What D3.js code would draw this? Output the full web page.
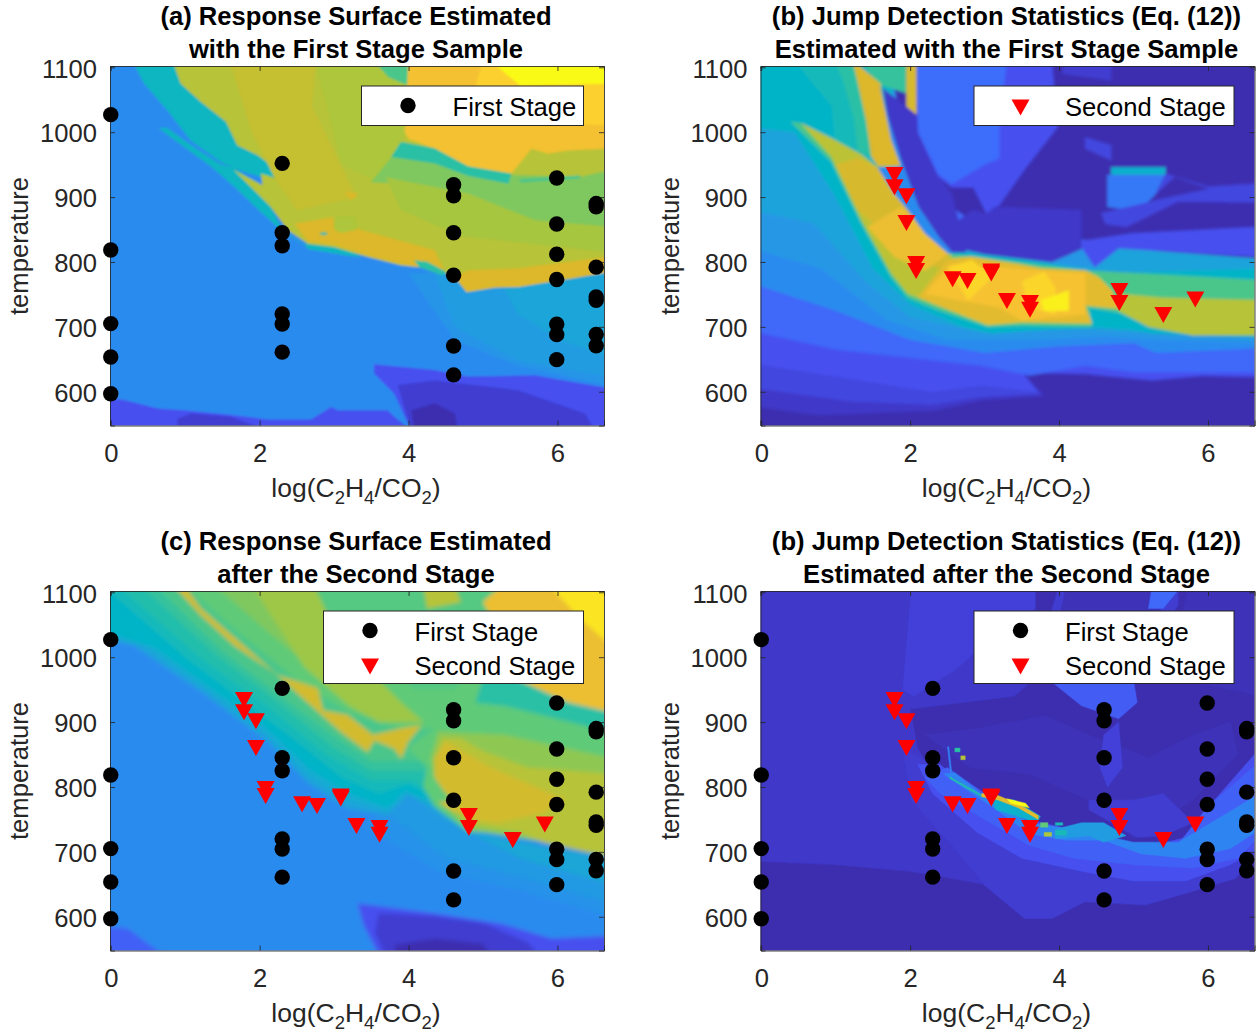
<!DOCTYPE html>
<html><head><meta charset="utf-8">
<script src="https://cdn.jsdelivr.net/npm/d3@7"></script>
<style>html,body{margin:0;background:#fff}svg{display:block}text{font-family:"Liberation Sans",Arial,sans-serif}</style>
</head><body><div id="c"></div>
<script>
const xTicks=[0,2,4,6], yTicks=[600,700,800,900,1000,1100];
const firstStageX=[0,0,0,0,0,2.303,2.303,2.303,2.303,2.303,2.303,4.605,4.605,4.605,4.605,4.605,4.605,5.99,5.99,5.99,5.99,5.99,5.99,5.99,6.52,6.52,6.52,6.52,6.52,6.52,6.52];
const firstStageY=[1027,818.5,705,653.5,597,952,845,825,720,704.5,661,919,902,845,779.5,670.5,626,929.5,858.6,812,773,704,688,649.5,890,885,792,746,741,688.5,671];
const secondStageX=[1.79,1.79,1.95,1.95,2.08,2.08,2.57,2.77,3.09,3.09,3.30,3.61,3.61,4.81,4.81,5.40,5.83];
const secondStageY=[934.7,916,902,861,797.5,787,774.3,771.3,786,783,740.5,737.5,727,756,737.5,719,743];
const colourStops=[0,.05,.1,.15,.2,.3,.4,.5,.6,.7,.8,.9,1];
const parulaColours=["#3a2aa0","#3f37c8","#4650ef","#3d6dfb","#2b8bef","#1fa3db","#05b4c8","#2cc0a5","#5fca78","#aec63a","#dcb82c","#fdc535","#f9fb15"];
// Surface regions: level, then x,y vertices in data units, painted in order
const surfaceA=[
[.2,-1,500,8,500,8,1200,-1,1200],
[.24,4,782,6.7,792,6.7,610,5.47,640,4.62,680],
[.27,4.35,782,6.7,792,6.7,623,5.47,648,4.62,700],
[.31,5.25,767,6.7,782,6.7,654,6.05,679,5.47,720],
[.1,3.54,642,4.35,633,4.8,623,5.7,625,6.7,605,6.7,540,4.04,540,3.81,597,3.54,628],
[.06,3.86,610,4.35,617,5.47,602,6.37,566,6.5,540,4.04,540],
[.02,4.04,571,4.35,582,4.62,566,4.66,540,4.08,540],
[.1,-1,603,.18,587,.63,574,.99,571,1.61,564,2.11,557,2.69,557,2.96,576,3.05,571,3.72,571,3.81,561,4.04,540,-1,540],
[.06,.9,558,1.08,566,1.61,561,2.11,540,.9,540],
[.42,.29,1110,.83,1110,.94,1075,1.21,1047,1.55,1016,1.7,980,1.97,965,2.31,936,2.38,923,2.02,931,1.66,944,1.48,954,1.08,987,.76,1034,.45,1075],
[.42,.65,1006,.76,1006,1.1,978,1.48,950,1.66,944,2,920,2.3,850,2.6,826,2.29,849,1.97,882,1.66,916,1.35,947,.99,977],
[.42,2.6,828,3.14,821,3.36,808,3.18,810,2.65,820],
[.72,.83,1110,.94,1075,1.21,1047,1.55,1016,1.7,980,1.97,965,2.31,936,2.38,923,2.02,936,2.04,918,1.66,941,1.88,916,2.15,885,2.38,849,2.65,828,3,823,3.45,808,3.9,795,4.35,790,4.62,777,4.78,754,5.16,761,5.47,762,6.14,774,6.7,785,6.7,1110],
[.75,1.6,1110,2.75,1110,2.7,1040,3.3,900,2.5,880,2.2,930,1.9,1000],
[.7,2.74,1110,4,1110,4,1008,3.85,975,3.55,925,3.1,950,2.9,1040],
[.56,3.54,1110,4,1110,4,1072,3.73,1085],
[.87,4,1110,6.7,1110,6.7,975,6.14,972,5.87,967,5.65,975,5.38,936,4.8,947,4.35,975,4,990,3.95,1000],
[.92,5,1110,6.7,1110,6.7,1010,5.3,1020,4.9,1070],
[1,5.1,1110,6.7,1110,6.7,1075,5.5,1072],
[.64,3.5,923,3.81,967,4.35,957,5.38,934,6.31,931,6.7,941,6.7,854,5.7,864,4.8,905,3.9,921],
[.5,3.77,962,3.9,985,4.35,975,4.8,947,5.38,936,5.34,921,4.8,933,4.35,952],
[.55,5.5,927,6.3,933,6.3,929,5.5,923],
[.69,3.7,930,4.8,905,5.7,864,6.7,854,6.7,815,5.5,830,4.7,840,3.9,880],
[.8,2.47,859,3,869,3.36,849,4.35,818,4.48,787,3.9,797,3.45,810,3,826,2.65,831],
[.8,4.62,777,4.8,787,5.47,790,6.7,808,6.7,785,6.14,774,5.47,762,5.16,761,4.78,754],
[.8,3.14,908,3.32,905,3.23,895],
[.7,3,870,3.3,870,3.3,850,3.1,845,3,850],
[.45,2.82,845,2.9,845,2.9,842,2.82,842],
[.5,4.08,802,4.25,800,4.5,785,4.45,780,4.15,792]
];
const surfaceB=[
[.02,-1,500,8,500,8,1200,-1,1200],
[.05,-1,592,.76,564,2.33,571,2.96,587,3.79,594,3.5,630,4.35,628,5.25,618,5.92,625,6.7,623,6.7,790,4.6,830,3,850,2.6,880,2,950,1.7,1110,-1,1110],
[.08,-1,620,1.2,585,2.3,580,2.96,592,3.75,597,3.5,630,4.35,628,5.25,618,5.92,625,6.7,623,6.7,790,4.6,830,3,850,2.6,880,2,950,1.7,1110,-1,1110],
[.1,-1,660,1.2,620,2.3,600,2.96,610,3.7,600,3.5,630,4.35,628,5.25,618,5.92,625,6.7,623,6.7,790,4.6,830,3,850,2.6,880,2,950,1.7,1110,-1,1110],
[.14,-1,715,1,665,2.96,640,3.6,625,4.35,640,5,630,6.7,630,6.7,790,4.6,830,3,850,2.6,880,2,950,1.7,1110,-1,1110],
[.2,-1,800,1,725,2,680,3,660,4,670,5,675,5.3,660,6.7,667,6.7,790,4.6,830,3,840,2.6,860,2,950,1.7,1110,-1,1110],
[.25,-1,850,.8,790,1.7,710,2.5,680,3.7,680,4.6,685,5.3,680,6.7,676,6.7,790,4.6,830,3,840,2.6,860,2,950,1.7,1110,-1,1110],
[.3,-1,900,.7,860,1.4,770,2,715,3,690,3.7,695,4.6,695,5.3,690,6.7,684,6.7,805,4.8,821,4.48,792,3.9,797,2.74,820,2.56,815,2.2,860,1.9,950,1.7,1110,-1,1110],
[.4,-1,1020,.45,1000,1,900,1.5,790,2,735,2.7,700,3.1,690,4.4,700,5,695,5.25,690,6.7,684,6.7,790,4.6,782,3.9,797,3,812,2.65,815,2.4,800,1.9,950,1.7,1110,-1,1110],
[.4,-1,1110,1.23,1110,1.3,1075,1.41,1018,1.48,962,1.35,965,.95,990,.54,1013,.4,1016,-1,1020],
[.44,.45,1110,1.23,1110,1.35,968,1,985,.95,1040],
[.5,.99,1110,1.23,1110,1.3,1075,1.41,1018,1.48,962,1.3,970,1.25,1020,1.1,1080],
[.52,1.35,1110,1.95,1110,1.95,1060,1.55,1075],
[.79,1.95,1110,2.09,1110,2.09,1026,1.95,1039],
[.56,.4,1016,.54,1013,.95,990,1.35,965,1.57,945,1.9,880,2.51,813,4.35,787,6.7,772,6.7,690,5.8,687,5.2,702,4.8,722,4.4,730,4.44,700,3.5,702,3.04,700,2.37,726,1.97,745,1.75,776,1.35,858,.94,955],
[.73,.54,1013,.95,990,1.35,965,1.57,945,1.79,905,1.97,880,2.2,844,2.51,813,2.56,810,2.45,775,2.37,733,1.97,751,1.75,782,1.35,864,.94,962],
[.72,4.8,751,5.38,745,6.7,741,6.7,687,5.8,687,5.2,700,4.8,725],
[.79,1,950,1.3,960,1.57,945,1.79,905,1.97,880,2.2,844,2.51,813,2.45,790,2.1,800,1.6,850,1.3,880],
[.85,1.43,854,1.88,885,2.2,844,2.51,813,2.2,787,1.79,808],
[.8,1.23,1110,1.6,1075,1.66,1039,1.75,988,1.88,947,1.57,947,1.48,962,1.41,1018,1.3,1075],
[.82,2.11,746,2.51,805,2.82,808,3.45,797,3.76,790,4.35,787,4.53,777,4.71,756,4.8,728,4.35,733,4.44,705,3.5,707,3.04,703,2.37,733],
[.88,2.2,751,2.55,797,4.35,782,4.35,720,3.5,710,3.2,730],
[.93,2.51,792,2.83,803,3.1,777,2.78,741],
[.93,3.5,770,3.8,785,3.95,760,3.95,720,3.6,730],
[.98,3.76,741,4.13,756,4.13,725,3.8,725],
[.05,1.64,1067,1.95,1039,2.09,1026,2.11,998,2.38,931,2.56,905,2.75,815,2.56,815,2.38,839,2.11,885,1.88,952,1.7,1024],
[.2,1.6,1070,1.7,1024,1.88,957,2.11,885,2.38,839,2.56,815,2.51,813,2.2,844,1.97,880,1.79,905,1.57,945,1.88,947,1.75,988,1.66,1039],
[.1,2.09,1110,3.9,1110,3.98,1008,3.55,945,3.2,888,3.03,874,2.85,915,2.56,915,2.38,931,2.11,998,2.09,1026],
[.15,2.09,1110,3.3,1110,3.2,1020,3.2,960,3,950,2.56,920,2.38,935,2.11,1000],
[.05,3.03,874,3.14,885,4.3,880,4.3,820,3.9,800,3,812,2.7,820,2.6,860,2.85,880],
[.06,4.05,1110,4.7,1110,4.7,1080,4.05,1090],
[.08,4.35,992,4.7,980,4.7,957,4.35,975],
[.38,4.7,946,5.43,946,5.43,934,4.7,934],
[.17,4.65,934,5.43,934,5.25,895,4.95,880,4.65,885],
[.08,4.57,875,5.25,893,5.43,936,6,916,6.7,921,6.7,892,5.6,893,4.9,854,4.62,859],
[.02,5.2,893,5.55,931,6,913],
[.1,4.3,832,4.98,844,6.7,854,6.7,808,4.8,821,4.48,792,4.3,823]
];
const surfaceC=[
[.2,-1,500,8,500,8,1200,-1,1200],
[.23,3.4,740,4,787,4.35,761,4.8,731,5.2,720,6.7,680,6.7,600,5.5,640,4.4,670],
[.26,3.75,755,4,787,4.35,761,4.8,731,5.2,720,6.7,680,6.7,620,5.5,660,4.5,690],
[.32,4.3,761,4.8,731,5.2,722,6.7,690,6.7,650,5.5,690],
[.1,3.32,620,3.67,615,4.35,605,5.25,589,5.92,566,6.7,570,6.7,540,3.61,540,3.4,587],
[.06,3.6,605,4.35,600,5,590,5.6,560,5.75,540,3.7,540,3.55,575],
[.02,3.81,556,4.35,566,5,558,5.1,540,3.85,540],
[.13,-1,592,.22,582,.72,540,-1,540],
[.3,-1,1052,.31,1018,1.21,947,2.11,870,2.63,808,3.18,767,3.72,756,4.01,787,4.35,761,4.8,731,5.2,725,6.7,700,6.7,1110,-1,1110],
[.35,-1,1060,.45,1018,1.2,957,2.1,880,2.66,816,3.2,778,3.72,762,3.98,790,4.35,768,4.7,740,5.2,728,6.7,705,6.7,1110,-1,1110],
[.4,-1,1072,.6,1015,1.2,965,2.1,890,2.7,825,3.2,790,3.72,768,3.95,795,4.35,775,4.6,750,4.8,735,5.2,730,6.7,710,6.7,1110,-1,1110],
[.44,-.1,1110,1,1000,1.7,940,2.5,870,3.1,815,3.6,790,4,805,4.4,782,4.6,755,5,735,6.7,715,6.7,1110],
[.48,.1,1110,1.2,1000,2.1,925,2.9,850,3.5,810,4.05,810,4.4,790,4.6,760,5,740,6.7,720,6.7,1110],
[.52,.4,1110,1.4,1005,2.25,930,3,860,3.5,825,4.2,825,4.4,795,4.6,765,5,745,6.7,730,6.7,1110],
[.56,.6,1110,1.5,1010,2.4,930,3.1,870,3.5,840,4.25,840,4.35,800,4.6,770,5,750,6.7,740,6.7,1110],
[.6,1,1110,1.7,1040,2.5,965,3.2,915,3.9,890,6.7,890,6.7,1110],
[.64,1.4,1110,2.1,1040,2.9,965,3.6,900,4.1,900,3.4,960,2.8,1040,2.5,1110],
[.68,1.9,1110,2.74,1110,2.9,1070,3.3,1000,3.9,930,4.2,900,3.6,900,3.2,925,2.6,985],
[.58,2.74,1110,4.2,1110,5.25,1110,5.1,1000,4.6,950,4.1,950,3.4,1000,2.9,1070],
[.72,4.2,1110,4.62,1110,4.7,1085,4.25,1075],
[.85,5.25,1110,6.7,1110,6.7,915,6.14,930,5.47,965,5.4,1000,5,1085],
[.96,5.9,1110,6.7,1110,6.7,1020,6.3,1060],
[.5,5,965,5.47,965,6.14,930,6.7,915,6.7,885,6,905,5.3,925,4.9,930],
[.6,4,860,4.35,890,4.8,920,5.2,905,6.7,885,6.7,700,5.5,730,4.8,731,4.35,770,4.2,800,4.25,830],
[.66,4.4,885,5.3,880,6.7,845,6.7,700,5.7,718,4.8,735,4.5,770,4.55,800,4.35,815,4.3,845],
[.72,4.45,875,4.35,840,4.45,810,4.65,780,4.6,770,4.75,745,5.5,730,5.8,715,6.7,692,6.7,820,5.6,830,5,855,4.7,875],
[.78,4.35,845,4.5,870,4.65,860,5.1,830,5.6,805,6.1,780,5.8,760,5.2,745,4.85,750,4.7,765,4.62,785,4.5,790,4.35,815],
[.78,.85,1110,.99,1110,1.21,1075,1.75,1021,2.24,972,2.78,952,2.85,918,3.18,911,3.52,880,3.9,890,4.17,895,3.99,869,3.9,844,3.81,859,3.54,872,3.45,854,3.09,885,2.56,939,2.19,977,1.66,1018,1.21,1065],
[.78,4.4,777,4.55,778,4.75,760,4.6,762]
];
const surfaceD=[
[.02,-1,500,8,500,8,1200,-1,1200],
[.05,-1,1110,3.68,1110,3.68,1075,4,1000,3.4,940,2,920,2.1,860,2.4,800,3.5,700,3,650,2,670,1,680,-1,690],
[.07,2.02,1110,3.68,1110,3.68,1075,3.2,1040,2.6,980,2.05,940,1.9,950],
[.03,2.2,880,2.9,890,3.8,910,4.4,880,5.2,845,5.8,880,6.3,900,6.4,850,5.8,780,5,720,4.4,780,3.6,820,2.8,830],
[.06,4,1110,5.6,1110,5.6,1080,5.1,1000,4.2,1000,4,960,3.6,960],
[.03,4.1,1110,5.2,1110,5.5,1040,5.5,1000,4.5,1000,4,1060],
[.03,5.75,1110,6.7,1110,6.7,940,5.9,960,5.5,1000],
[.12,3.9,962,5,965,5.05,930,4.8,905,4.3,925],
[.14,5.25,1110,5.65,1110,5.4,1075,5.2,1075],
[.07,4.6,880,4.8,900,4.85,830,4.65,800,4.55,830],
[.06,4.4,780,5,780,5.4,790,5.8,745,5.4,725,5.05,722,4.4,765],
[.06,1.9,860,2.3,835,2.8,790,3.5,750,4.5,720,5,700,5.7,720,6.05,770,6.7,850,6.7,700,6.37,659,5.7,636,5.16,618,4.35,623,3.9,597,3.54,597,3,648,2.56,710,2,780],
[.1,2.1,835,2.4,835,2.8,795,3.5,752,4.5,725,5,703,5.7,722,6.05,775,6.7,860,6.7,705,6.3,680,5.7,655,5,655,4.3,670,3.5,690,2.9,730,2.3,790],
[.13,2.2,815,2.5,830,3,790,3.6,745,4.4,730,5,705,5.6,712,6,770,6.3,800,6.7,840,6.7,725,6.4,690,5.8,675,5,680,4.2,690,3.6,710,3,750,2.4,790],
[.19,2.45,820,2.6,822,3,785,3.6,745,4.2,735,5,715,5.6,715,5.9,735,6.7,790,6.7,735,6.3,705,5.7,690,5.1,697,4.6,718,4.1,718,3.6,728,3.1,770,2.7,800],
[.27,3.95,735,4.3,745,4.6,745,4.75,735,4.9,725,4.6,715,4.4,725,3.95,720],
[.38,3.1,782,3.4,780,3.75,755,3.7,745,3.3,760,3.15,765],
[.48,2.54,816,2.57,813,2.96,788,2.95,786,2.56,811,2.53,813],
[.18,2.5,862,2.52,862,2.56,822,2.54,822],
[.5,2.6,860,2.67,860,2.67,854,2.6,854],
[.72,2.68,848,2.74,848,2.74,842,2.68,842],
[.82,2.96,790,3.18,787,3.45,774,3.72,756,3.72,750,3.45,768,3.18,780,2.96,785],
[1,3.3,782,3.55,775,3.6,768,3.35,775],
[.6,3.75,745,3.85,745,3.85,738,3.75,738],
[.45,3.95,745,4.05,745,4.05,741,3.95,741],
[.7,3.8,730,3.9,730,3.9,724,3.8,724],
[.45,3.95,733,4.1,733,4.1,726,3.95,726]
];
const panels=[
 {dx:0,dy:0,surface:surfaceA,blur:1,title:["(a) Response Surface Estimated","with the First Stage Sample"],first:true,second:false,legendLeft:361.5},
 {dx:650.5,dy:0,surface:surfaceB,blur:1.6,title:["(b) Jump Detection Statistics (Eq. (12))","Estimated with the First Stage Sample"],first:false,second:true,legendLeft:323.5},
 {dx:0,dy:525,surface:surfaceC,blur:2,title:["(c) Response Surface Estimated","after the Second Stage"],first:true,second:true,legendLeft:323.5},
 {dx:650.5,dy:525,surface:surfaceD,blur:.7,title:["(b) Jump Detection Statistics (Eq. (12))","Estimated after the Second Stage"],first:true,second:true,legendLeft:323.5}
];
const W=1257,H=1036;
const colour=d3.scaleLinear().domain(colourStops).range(parulaColours);
const svg=d3.select("#c").append("svg").attr("width",W).attr("height",H);
const tri="M-9,-7.5L9,-7.5L0,8.5Z";
const inkAxis="#262626";
const fs=25.6;
panels.forEach((p,pi)=>{
  const x=d3.scaleLinear().domain([-0.01,6.625]).range([110+p.dx,604+p.dx]);
  const y=d3.scaleLinear().domain([548,1102]).range([425.5+p.dy,66+p.dy]);
  const line=d3.line().x(d=>x(d[0])).y(d=>y(d[1]));
  const cid="clip"+pi;
  svg.append("clipPath").attr("id",cid).append("rect").attr("x",x.range()[0]).attr("y",y.range()[1]).attr("width",494).attr("height",359.5);
  svg.append("filter").attr("id","soft"+pi).attr("filterUnits","userSpaceOnUse").attr("x",0).attr("y",0).attr("width",W).attr("height",H)
    .append("feGaussianBlur").attr("stdDeviation",p.blur);
  const g=svg.append("g");
  g.append("g").attr("clip-path",`url(#${cid})`).append("g").attr("filter",`url(#soft${pi})`)
    .selectAll("path").data(p.surface).join("path")
    .attr("d",r=>line(d3.range(1,r.length,2).map(i=>[r[i],r[i+1]]))+"Z")
    .attr("fill",r=>colour(r[0])).attr("stroke",r=>colour(r[0])).attr("stroke-width",.4);
  const top=y.range()[1],bot=y.range()[0],lft=x.range()[0],rgt=x.range()[1];
  const ax=g.append("g");
  const fmt=d3.format("d");
  ax.append("g").attr("transform",`translate(0,${bot})`).call(d3.axisBottom(x).tickValues(xTicks).tickSize(-5).tickPadding(18).tickFormat(fmt));
  ax.append("g").attr("transform",`translate(0,${top})`).call(d3.axisTop(x).tickValues(xTicks).tickSize(-5).tickFormat(""));
  ax.append("g").attr("class","yl").attr("transform",`translate(${lft},0)`).call(d3.axisLeft(y).tickValues(yTicks).tickSize(-5).tickPadding(13).tickFormat(fmt));
  ax.append("g").attr("transform",`translate(${rgt},0)`).call(d3.axisRight(y).tickValues(yTicks).tickSize(-5).tickFormat(""));
  ax.selectAll("path.domain").attr("stroke",inkAxis).attr("stroke-width",1).attr("opacity",.85);
  ax.selectAll(".tick line").attr("stroke",inkAxis).attr("stroke-width",1).attr("opacity",.85);
  ax.selectAll("text").attr("font-size",fs).attr("fill",inkAxis).attr("font-family","Liberation Sans");
  ax.selectAll(".yl text").attr("dy","0.38em");
  if(p.second){
    g.append("g").selectAll("path").data(d3.range(secondStageX.length)).join("path")
     .attr("transform",i=>`translate(${x(secondStageX[i])},${y(secondStageY[i])})`).attr("d",tri).attr("fill","#ff0000");
  }
  if(p.first){
    g.append("g").selectAll("circle").data(d3.range(firstStageX.length)).join("circle")
     .attr("cx",i=>x(firstStageX[i])).attr("cy",i=>y(firstStageY[i])).attr("r",7.7).attr("fill","#000");
  }
  p.title.forEach((t,i)=>g.append("text").attr("x",356+p.dx).attr("y",25+33*i+p.dy).attr("text-anchor","middle")
    .attr("font-size",fs).attr("font-weight","bold").attr("fill","#000").text(t));
  const xl=g.append("text").attr("x",356+p.dx).attr("y",497+p.dy).attr("text-anchor","middle").attr("font-size",26.5).attr("fill",inkAxis);
  [["log(C",0],["2",1],["H",0],["4",1],["/CO",0],["2",1],[")",0]].forEach((s,i,a)=>{
    const prev=i?a[i-1][1]:0;
    const dy=(s[1]-prev)*7;
    xl.append("tspan").attr("dy",dy).attr("font-size",s[1]?18.5:26.5).text(s[0]);
  });
  g.append("text").attr("transform",`translate(${28+p.dx},${246+p.dy}) rotate(-90)`).attr("text-anchor","middle")
    .attr("font-size",fs).attr("fill",inkAxis).text("temperature");
  const lx=p.legendLeft+p.dx,ly=86+p.dy;
  const entries=[];
  if(p.first)entries.push(["First Stage","dot"]);
  if(p.second)entries.push(["Second Stage","tri"]);
  const lw=583.5-p.legendLeft,lh=entries.length==2?72.5:39.5;
  const lg=g.append("g");
  lg.append("rect").attr("x",lx).attr("y",ly).attr("width",lw).attr("height",lh).attr("fill","#fff").attr("stroke",inkAxis).attr("stroke-width",1);
  const mx=lx+46.5;
  entries.forEach((e,i)=>{
    const cy=ly+(entries.length==2?20+34*i:20);
    if(e[1]=="dot")lg.append("circle").attr("cx",mx).attr("cy",cy-.5).attr("r",7.7).attr("fill","#000");
    else lg.append("path").attr("transform",`translate(${mx},${cy+1})`).attr("d",tri).attr("fill","#ff0000");
    lg.append("text").attr("x",mx+44.5).attr("y",cy+9.5).attr("font-size",fs).attr("fill","#000").text(e[0]);
  });
});
</script></body></html>
